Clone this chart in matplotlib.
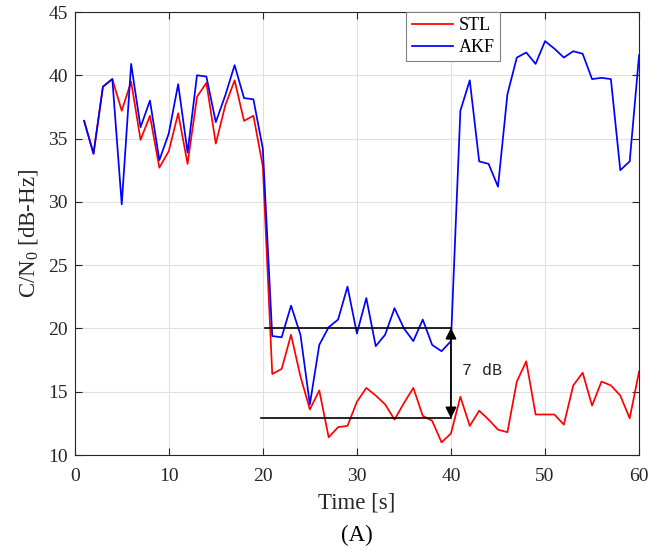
import numpy as np
import matplotlib
matplotlib.use("Agg")
import matplotlib.pyplot as plt

plt.rcParams['font.family'] = ['Liberation Serif', 'DejaVu Serif']
plt.rcParams['mathtext.fontset'] = 'custom'
plt.rcParams['mathtext.rm'] = 'Liberation Serif'
plt.rcParams['mathtext.it'] = 'Liberation Serif:italic'

# time axis, one sample per second
time_s = np.arange(1, 61)

# C/N0 estimates [dB-Hz]
stl = [36.4, 33.8, 39.1, 39.7, 37.2, 39.5, 34.9, 36.8, 32.7, 34.0,
       37.0, 33.0, 38.3, 39.4, 34.6, 37.6, 39.6, 36.4, 36.8, 32.8,
       16.4, 16.8, 19.5, 16.2, 13.6, 15.1, 11.4, 12.2, 12.3, 14.2,
       15.3, 14.7, 14.0, 12.8, 14.1, 15.3, 13.1, 12.7, 11.0, 11.7,
       14.6, 12.3, 13.5, 12.8, 12.0, 11.8, 15.8, 17.4, 13.2, 13.2,
       13.2, 12.4, 15.5, 16.5, 13.9, 15.8, 15.5, 14.7, 12.9, 16.6]
akf = [36.4, 33.8, 39.1, 39.7, 29.8, 40.9, 35.9, 38.0, 33.3, 35.4,
       39.3, 33.9, 40.0, 39.9, 36.3, 38.4, 40.8, 38.2, 38.1, 34.2,
       19.4, 19.3, 21.8, 19.5, 14.0, 18.7, 20.1, 20.7, 23.3, 19.6,
       22.4, 18.6, 19.5, 21.6, 20.0, 19.0, 20.7, 18.7, 18.2, 19.0,
       37.2, 39.6, 33.2, 33.0, 31.2, 38.5, 41.4, 41.8, 40.9, 42.7,
       42.1, 41.4, 41.9, 41.7, 39.7, 39.8, 39.7, 32.5, 33.2, 41.6]

# levels marked by the 7 dB annotation
upper_level = 20.05
lower_level = 12.9

fig = plt.figure(figsize=(6.64, 5.53), dpi=100)
ax = fig.add_axes([0.1125, 0.1772, 0.850, 0.8011])

ax.plot(time_s, stl, color='red', lw=1.25, label='STL')
ax.plot(time_s, akf, color='blue', lw=1.25, label='AKF')

# annotation: reference lines + double arrow
ax.plot([20.2, 40], [upper_level, upper_level], color='black', lw=1.2)
ax.plot([19.8, 40], [lower_level, lower_level], color='black', lw=1.2)
ax.annotate('', xy=(40, upper_level), xytext=(40, lower_level),
            arrowprops=dict(arrowstyle='<|-|>', color='black', lw=1.3,
                            mutation_scale=16, shrinkA=0, shrinkB=0))
ax.text(41.2, 16.7, '7 dB', family=['Liberation Mono', 'DejaVu Sans Mono'],
        fontsize=12, va='center', ha='left', color='0.15')

ax.set_xlim(0, 60)
ax.set_ylim(10, 45)
ax.set_xticks(np.arange(0, 61, 10))
ax.set_yticks(np.arange(10, 46, 5))
ax.grid(True, color='0.88', lw=0.8)
ax.set_axisbelow(True)
ax.tick_params(direction='in', top=True, right=True, labelsize=14,
               colors='0.15', length=5, width=0.8)
ax.tick_params(axis='x', pad=9)
ax.tick_params(axis='y', pad=5)
for sp in ax.spines.values():
    sp.set_color('0.15')
    sp.set_linewidth(0.8)

ax.set_xlabel('Time [s]', fontsize=16.5, color='0.15', labelpad=6)
ax.set_ylabel('C/N$_0$ [dB-Hz]', fontsize=16.5, color='0.15', labelpad=6)

leg = ax.legend(loc='upper right', bbox_to_anchor=(0.754, 1.0), fontsize=13,
                fancybox=False, framealpha=1, edgecolor='0.5',
                handlelength=2.3, handletextpad=0.3, borderpad=0.3,
                labelspacing=0.25, borderaxespad=0)
leg.get_frame().set_linewidth(0.8)

fig.text(0.537, 0.031, '(A)', fontsize=16.5, ha='center', va='center', color='black')

fig.savefig('out.png', dpi=100)
